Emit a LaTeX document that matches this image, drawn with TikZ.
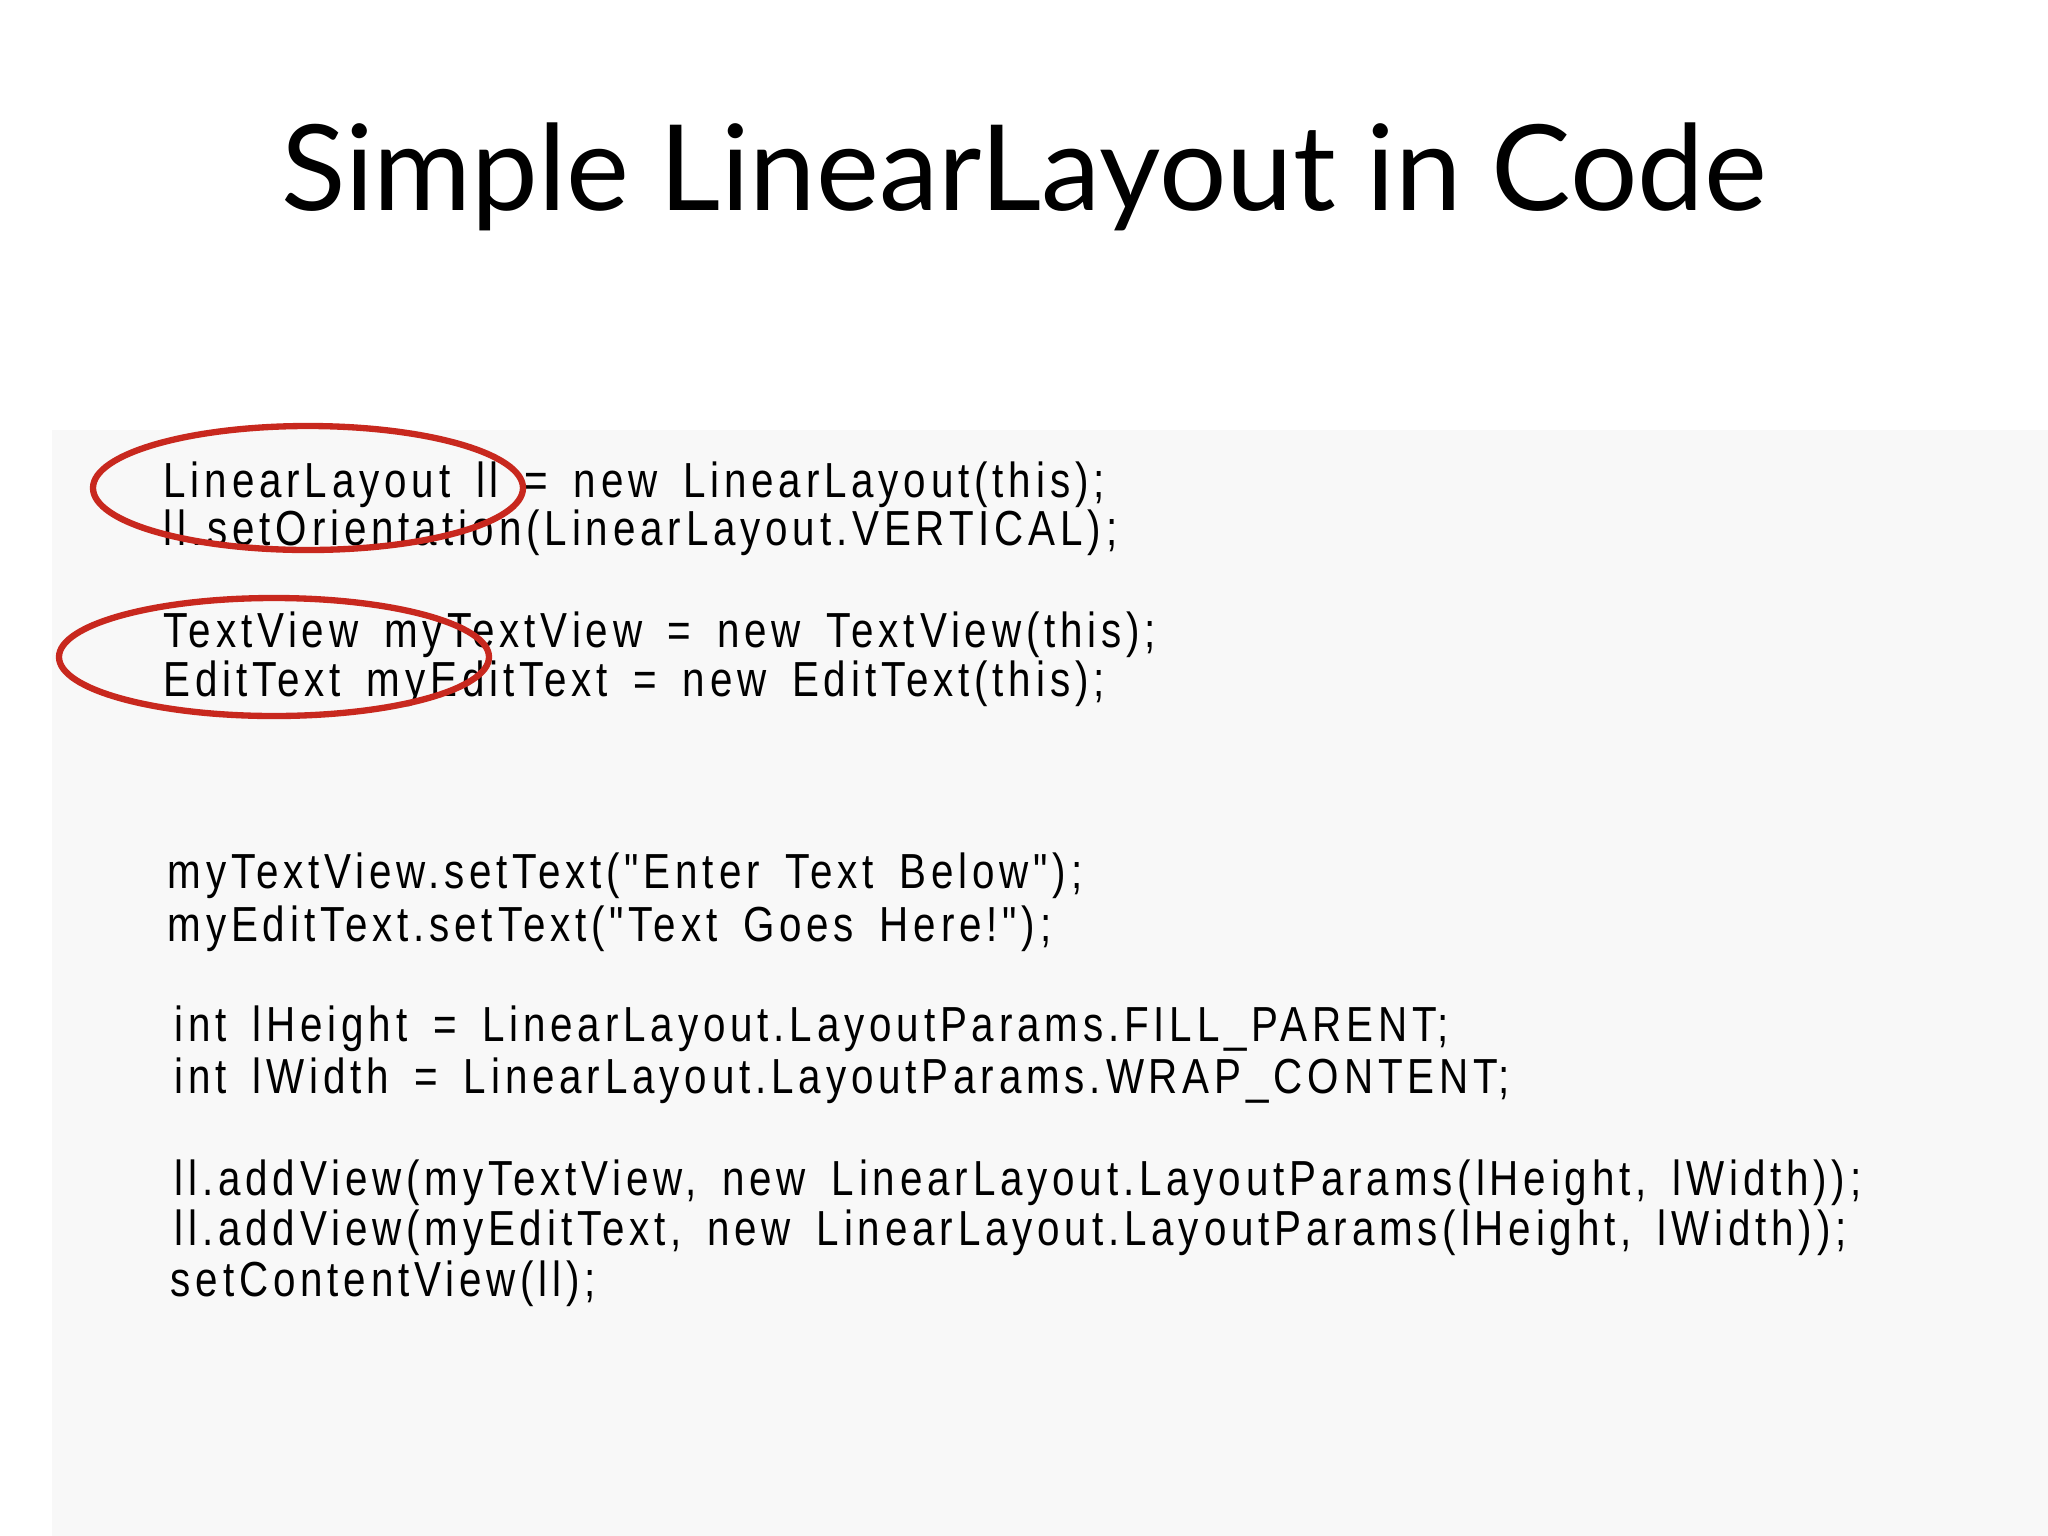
\documentclass[tikz,border=0pt]{standalone}
\usepackage{fontspec}
\setmainfont{Lato}
\newfontfamily\codefont[LetterSpace=12]{Liberation Sans}
\definecolor{ovalred}{HTML}{C8281E}
\definecolor{panel}{HTML}{F8F8F8}
\newcommand\cln[1]{\scalebox{0.82}[1]{\spaceskip=8.9pt #1}}
\begin{document}
\begin{tikzpicture}[x=0.01cm,y=-0.01cm,
  codeline/.style={anchor=base west,inner sep=0pt,font=\codefont\fontsize{14}{17}\selectfont},
  oval/.style={draw=ovalred,line width=1.8pt}]
\useasboundingbox (0,0) rectangle (2048,1536);
\fill[white] (0,0) rectangle (2048,1536);
\fill[panel] (52,430) rectangle (2048,1536);
\node[anchor=base,inner sep=0pt] (title) at (1024,210) {\resizebox{14.85cm}{!}{Simple LinearLayout in Code}};
\node[codeline] (l1) at (163,497) {\cln{LinearLayout ll = new LinearLayout(this);}};
\node[codeline] (l2) at (163,545) {\cln{ll.setOrientation(LinearLayout.VERTICAL);}};
\node[codeline] (l3) at (163,647) {\cln{TextView myTextView = new TextView(this);}};
\node[codeline] (l4) at (163,696) {\cln{EditText myEditText = new EditText(this);}};
\node[codeline] (l5) at (167,888) {\cln{myTextView.setText("Enter Text Below");}};
\node[codeline] (l6) at (167,941) {\cln{myEditText.setText("Text Goes Here!");}};
\node[codeline] (l7) at (174,1041) {\cln{int lHeight = LinearLayout.LayoutParams.FILL\_PARENT;}};
\node[codeline] (l8) at (174,1093) {\cln{int lWidth = LinearLayout.LayoutParams.WRAP\_CONTENT;}};
\node[codeline] (l9) at (174,1195) {\cln{ll.addView(myTextView, new LinearLayout.LayoutParams(lHeight, lWidth));}};
\node[codeline] (l10) at (174,1245) {\cln{ll.addView(myEditText, new LinearLayout.LayoutParams(lHeight, lWidth));}};
\node[codeline] (l11) at (170,1296) {\cln{setContentView(ll);}};
\draw[oval] (308,488) ellipse [x radius=215, y radius=62];
\draw[oval] (274,657) ellipse [x radius=215, y radius=59];
\end{tikzpicture}
\end{document}
